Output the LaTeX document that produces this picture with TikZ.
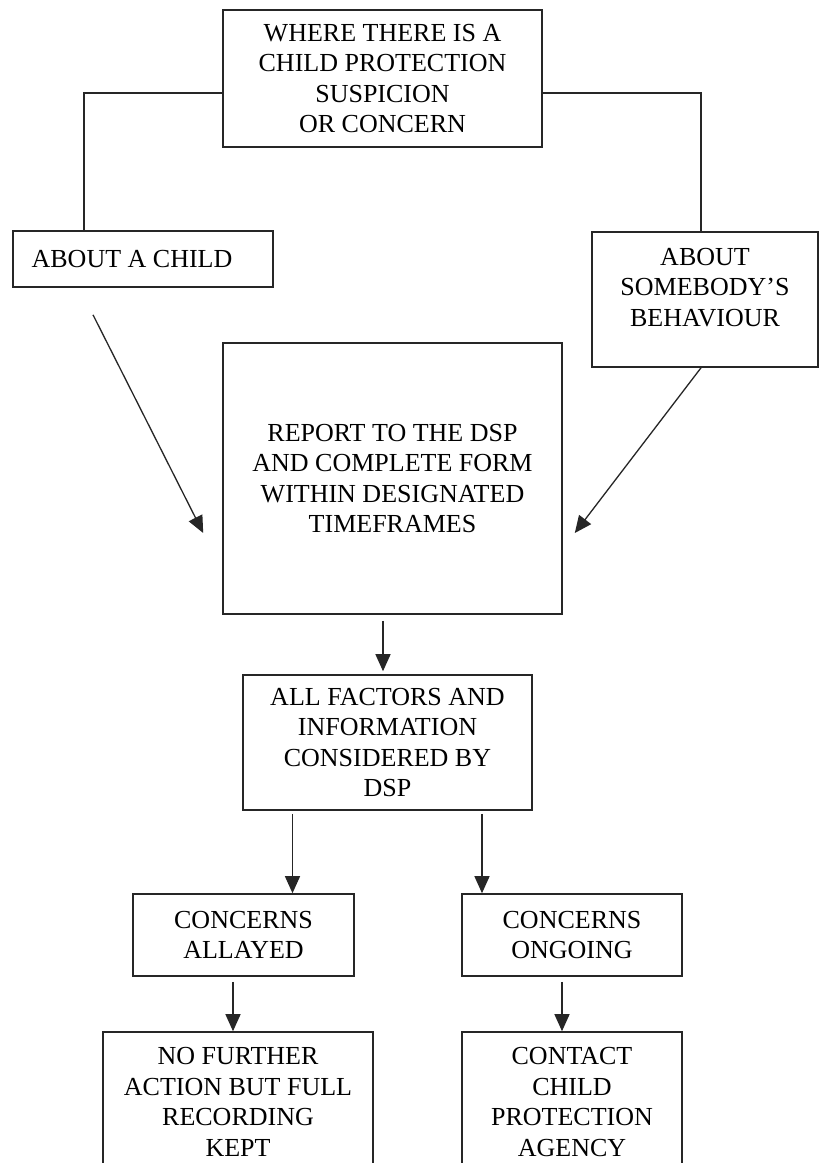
\documentclass[tikz,border=0pt]{standalone}
\usepackage{fontspec}
\setmainfont{Liberation Serif}
\usetikzlibrary{arrows.meta}

\begin{document}
\begin{tikzpicture}[x=1pt,y=-1pt,
  box/.style={draw=black!85,line width=1.6pt,inner sep=0pt,align=center,
    font=\fontsize{26}{30.5}\selectfont},
  link/.style={draw=black!85,line width=1.3pt},
  arr/.style={link,-{Triangle[length=17pt,width=15pt]}}]

\clip (0,0) rectangle (820,1163);
\fill[white] (0,0) rectangle (820,1163);

% boxes, sizes in pixels of the page
\node[box,minimum width=319pt,minimum height=137pt] (where) at (382.5,78.5)
  {WHERE THERE IS A\\CHILD PROTECTION\\SUSPICION\\OR CONCERN};
\node[box,minimum width=260pt,minimum height=56pt] (child) at (143,259)
  {ABOUT A CHILD\hspace*{22pt}};
\node[box,minimum width=226pt,minimum height=135pt] (somebody) at (705,299.5)
  {ABOUT\\SOMEBODY’S\\BEHAVIOUR\\[-6pt]\mbox{}};
\node[box,minimum width=339pt,minimum height=271pt] (report) at (392.5,478.5)
  {REPORT TO THE DSP\\AND COMPLETE FORM\\WITHIN DESIGNATED\\TIMEFRAMES};
\node[box,minimum width=289pt,minimum height=135pt] (factors) at (387.5,742.5)
  {ALL FACTORS AND\\INFORMATION\\CONSIDERED BY\\DSP};
\node[box,minimum width=221pt,minimum height=82pt] (allayed) at (243.5,935)
  {CONCERNS\\ALLAYED};
\node[box,minimum width=220pt,minimum height=82pt] (ongoing) at (572,935)
  {CONCERNS\\ONGOING};
\node[box,minimum width=270pt,minimum height=140pt] (nofurther) at (238,1102)
  {NO FURTHER\\ACTION BUT FULL\\RECORDING\\KEPT};
\node[box,minimum width=220pt,minimum height=140pt] (contact) at (572,1102)
  {CONTACT\\CHILD\\PROTECTION\\AGENCY};

% split lines from the top box
\draw[link] ([yshift=-14.5pt]where.west) -| ([xshift=-59pt]child.north);
\draw[link] ([yshift=-14.5pt]where.east) -| ([xshift=-4pt]somebody.north);

% loose arrows into the report box
\coordinate (childend) at ([shift={(-50pt,-27pt)}]child.south);
\coordinate (reportw) at ([shift={(-19pt,-54.5pt)}]report.west);
\coordinate (reporte) at ([shift={(12pt,-54.5pt)}]report.east);
\draw[arr] (childend) -- (reportw);
\draw[arr] ([xshift=-4pt]somebody.south) -- (reporte);

\draw[arr] ([shift={(-9.5pt,-6pt)}]report.south) -- ([shift={(-4.5pt,3pt)}]factors.north);
\draw[arr] ([shift={(-95pt,-3pt)}]factors.south) coordinate (fl) -- (fl |- allayed.north);
\draw[arr] ([shift={(94.5pt,-3pt)}]factors.south) coordinate (fr) -- (fr |- ongoing.north);
\draw[arr] ([shift={(-10.5pt,-5pt)}]allayed.south) coordinate (al) -- (al |- nofurther.north);
\draw[arr] ([shift={(-10pt,-5pt)}]ongoing.south) coordinate (og) -- (og |- contact.north);

\end{tikzpicture}
\end{document}
